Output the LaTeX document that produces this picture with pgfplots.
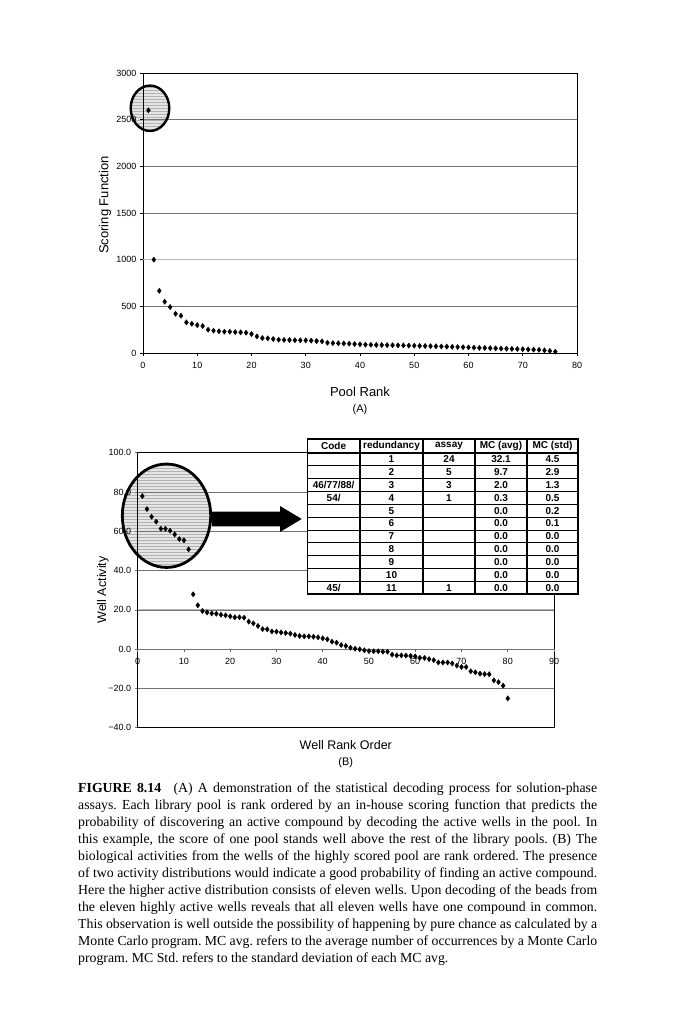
\documentclass[border=0pt]{standalone}
\usepackage{fontspec}
\setmainfont{Liberation Serif}
\newfontfamily\arial{Liberation Sans}
\usepackage{pgfplots}
\usepackage{pgfplotstable}
\pgfplotsset{compat=1.18}
\usetikzlibrary{patterns}

\pgfplotstableread{
x y
1 2600
2 1000
3 666
4 549
5 492
6 420
7 399
8 328
9 313
10 299
11 289
12 249
13 239
14 233
15 228
16 228
17 224
18 221
19 217
20 203
21 178
22 160
23 157
24 150
25 142
26 140
27 139
28 137
29 136
30 135
31 132
32 128
33 125
34 110
35 106
36 104
37 102
38 100
39 96
40 93
41 89
42 88
43 86
44 85
45 84
46 83
47 82
48 81
49 79
50 78
51 76
52 75
53 73
54 72
55 70
56 68
57 66
58 64
59 62
60 60
61 57
62 55
63 54
64 52
65 50
66 48
67 46
68 44
69 43
70 41
71 39
72 36
73 34
74 28
75 22
76 14
}\poolrank

\pgfplotstableread{
x y
1 77.9
2 71.3
3 67.4
4 64.9
5 61.3
6 61.3
7 60.3
8 58.4
9 56.0
10 55.4
11 50.8
12 27.9
13 22.3
14 19.4
15 18.7
16 18.2
17 18.0
18 17.5
19 17.2
20 16.7
21 16.2
22 16.2
23 16.0
24 14.0
25 13.1
26 11.8
27 10.2
28 10.1
29 9.0
30 8.9
31 8.5
32 8.2
33 7.9
34 7.2
35 6.7
36 6.5
37 6.5
38 6.3
39 6.0
40 5.5
41 5.0
42 3.8
43 3.3
44 2.1
45 1.6
46 0.7
47 0.2
48 -0.1
49 -0.6
50 -1.0
51 -1.1
52 -1.1
53 -1.3
54 -1.3
55 -2.8
56 -3.2
57 -3.2
58 -3.3
59 -3.5
60 -3.7
61 -4.4
62 -4.5
63 -5.1
64 -5.6
65 -6.8
66 -6.8
67 -6.8
68 -7.3
69 -8.4
70 -9.1
71 -9.1
72 -11.3
73 -11.8
74 -12.5
75 -12.7
76 -12.8
77 -15.9
78 -16.8
79 -18.6
80 -25.1
}\wellrank

\begin{document}
\begin{tikzpicture}[x=1pt,y=1pt]
\path (0,0) rectangle (678,1024);

% ---------------- (A) ----------------
\begin{axis}[
  set layers,
  at={(143pt,671pt)}, anchor=south west,
  scale only axis, width=434pt, height=280pt,
  xmin=0, xmax=80, ymin=0, ymax=3000,
  xtick={0,10,...,80}, ytick={0,500,...,3000},
  ymajorgrids, grid style={black!55, line width=0.6pt},
  tick align=outside, tick pos=left, major tick length=3pt,
  axis line style={line width=0.9pt},
  tick style={black, line width=0.6pt},
  ticklabel style={font=\arial\fontsize{9}{10}\selectfont},
  xticklabel style={yshift=-3pt},
  /pgf/number format/assume math mode=true,
  /pgf/number format/set thousands separator={},
  scaled ticks=false,
  clip=false,
]
\begin{pgfonlayer}{axis background}
\fill[black!10] (axis cs:1.29,2622) ellipse [x radius=19.3pt, y radius=22.7pt];
\fill[pattern=horizontal lines, pattern color=black!30] (axis cs:1.29,2622) ellipse [x radius=19.3pt, y radius=22.7pt];
\end{pgfonlayer}
\draw[line width=2.4pt] (axis cs:1.29,2622) ellipse [x radius=19.3pt, y radius=22.7pt];
\draw[black!28, line width=1pt] (axis cs:0,1000) -- (axis cs:80,1000);
\addplot[only marks, mark=diamond*, mark size=2.6pt, black] table {\poolrank};
\end{axis}
\node[font=\arial\fontsize{13}{15}\selectfont] at (360,632.3) {Pool Rank};
\node[font=\arial\fontsize{11}{13}\selectfont] at (360,614.5) {(A)};
\node[font=\arial\fontsize{13}{15}\selectfont, rotate=90] at (105,819) {Scoring Function};

% ---------------- (B) ----------------
\begin{axis}[
  set layers,
  at={(137.7pt,296.3pt)}, anchor=south west,
  scale only axis, width=416.3pt, height=275pt,
  xmin=0, xmax=90, ymin=-40, ymax=100,
  xtick=\empty, ytick={-40,-20,...,100},
  yticklabels={−40.0,−20.0,0.0,20.0,40.0,60.0,80.0,100.0},
  ymajorgrids, grid style={black!55, line width=0.6pt},
  tick align=outside, tick pos=left, major tick length=3pt,
  axis line style={line width=0.9pt},
  tick style={black!55, line width=0.6pt},
  ticklabel style={font=\arial\fontsize{9}{10}\selectfont},
  clip=false,
]
\begin{pgfonlayer}{axis background}
\fill[black!10] (axis cs:6.23,67.9) ellipse [x radius=44.2pt, y radius=51.7pt];
\fill[pattern=horizontal lines, pattern color=black!30] (axis cs:6.23,67.9) ellipse [x radius=44.2pt, y radius=51.7pt];
\end{pgfonlayer}
\draw[line width=2.8pt] (axis cs:6.23,67.9) ellipse [x radius=44.2pt, y radius=51.7pt];
\draw[black!28, line width=1pt] (axis cs:0,20) -- (axis cs:90,20);
\pgfplotsinvokeforeach{0,10,20,30,40,50,60,70,80,90}{
  \draw[black!60, line width=0.6pt] (axis cs:#1,0) -- ([yshift=-2.5pt]axis cs:#1,0);
  \node[font=\arial\fontsize{9}{10}\selectfont, yshift=-12.6pt] at (axis cs:#1,0) {#1};
}
\addplot[only marks, mark=diamond*, mark size=2.6pt, black] table {\wellrank};
\end{axis}
\node[font=\arial\fontsize{12.5}{15}\selectfont] at (345.8,279) {Well Rank Order};
\node[font=\arial\fontsize{11}{13}\selectfont] at (345.8,261) {(B)};
\node[font=\arial\fontsize{12.5}{15}\selectfont, rotate=90] at (103,434) {Well Activity};

% arrow
\fill[black] (212,512.3) -- (280,512.3) -- (280,518) -- (301.7,505) -- (280,492) -- (280,497.7) -- (212,497.7) -- cycle;

% table
\fill[white] (307.3,430) rectangle (578,585);
\foreach \k in {1,...,10} {
  \draw[line width=0.7pt] (307.3,{571-12.818*\k}) -- (578,{571-12.818*\k});
}
\foreach \xx in {360,423,475,527} {
  \draw[line width=1.1pt] (\xx,430) -- (\xx,585);
}
\draw[line width=1.6pt] (307.3,571) -- (578,571);
\draw[line width=1.6pt] (307.3,430) rectangle (578,585);
\begin{scope}[every node/.style={font=\arial\bfseries\fontsize{10}{12}\selectfont, inner sep=0pt}]
\node at (333.65,578.5) {Code};
\node at (391.5,578.5) {redundancy};
\node at (449,578.5) {assay};
\node at (501,578.5) {MC (avg)};
\node at (552.5,578.5) {MC (std)};
\foreach \r/\b/\c/\d/\e in {1/1/24/32.1/4.5, 2/2/5/9.7/2.9, 3/3/3/2.0/1.3, 4/4/1/0.3/0.5,
  5/5//0.0/0.2, 6/6//0.0/0.1, 7/7//0.0/0.0, 8/8//0.0/0.0, 9/9//0.0/0.0, 10/10//0.0/0.0, 11/11/1/0.0/0.0} {
  \node at (391.5,{571-12.818*(\r-0.5)}) {\b};
  \node at (449,{571-12.818*(\r-0.5)}) {\c};
  \node at (501,{571-12.818*(\r-0.5)}) {\d};
  \node at (552.5,{571-12.818*(\r-0.5)}) {\e};
}
\node at (333.65,{571-12.818*2.5}) {46/77/88/};
\node at (333.65,{571-12.818*3.5}) {54/};
\node at (333.65,{571-12.818*10.5}) {45/};
\end{scope}

% caption
\node[anchor=base west, inner sep=0pt] at (78,231) {\vtop{\fontsize{13.8}{17}\selectfont\frenchspacing
\hbox to 519pt{\textbf{FIGURE 8.14}\hskip 0.9em (A) A demonstration of the statistical decoding process for solution-phase}
\hbox to 519pt{assays. Each library pool is rank ordered by an in-house scoring function that predicts the}
\hbox to 519pt{probability of discovering an active compound by decoding the active wells in the pool. In}
\hbox to 519pt{this example, the score of one pool stands well above the rest of the library pools. (B) The}
\hbox to 519pt{biological activities from the wells of the highly scored pool are rank ordered. The presence}
\hbox to 519pt{of two activity distributions would indicate a good probability of finding an active compound.}
\hbox to 519pt{Here the higher active distribution consists of eleven wells. Upon decoding of the beads from}
\hbox to 519pt{the eleven highly active wells reveals that all eleven wells have one compound in common.}
\hbox to 519pt{This observation is well outside the possibility of happening by pure chance as calculated by a}
\hbox to 519pt{Monte Carlo program. MC avg. refers to the average number of occurrences by a Monte Carlo}
\hbox to 519pt{program. MC Std. refers to the standard deviation of each MC avg.\hfil}
}};
\end{tikzpicture}
\end{document}
